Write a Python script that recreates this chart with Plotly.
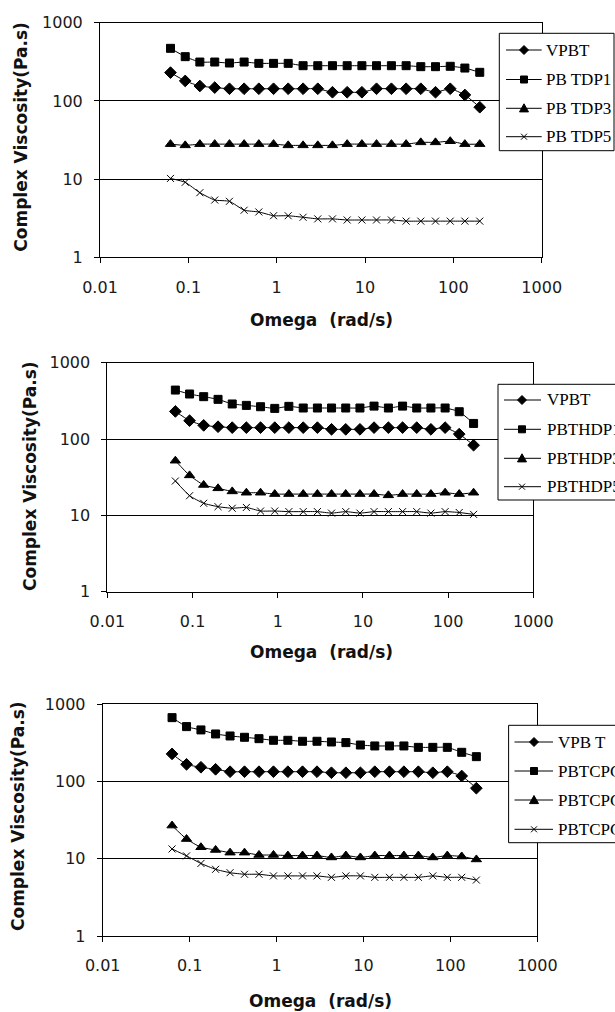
import plotly.graph_objects as go

W, H = 615, 1012

# ---------------- data ----------------
omega = [0.0628, 0.0922, 0.135, 0.199, 0.292, 0.428, 0.628, 0.922, 1.35, 1.99, 2.92,
         4.28, 6.28, 9.22, 13.5, 19.9, 29.2, 42.8, 62.8, 92.2, 135, 199]

# panel 1
vpbt_1 = [230, 180, 155, 148, 143, 143, 143, 143, 143, 143, 143, 129, 129, 129, 143, 143, 143, 143, 129, 143, 119, 83]
pbtdp1 = [470, 368, 314, 314, 305, 314, 302, 302, 302, 282, 282, 282, 282, 282, 282, 282, 282, 274, 274, 277, 263, 232]
pbtdp3 = [28, 27, 28, 28, 28, 28, 28, 28, 27, 27, 27, 27, 28, 28, 28, 28, 28, 29.5, 29.5, 30.5, 28, 28]
pbtdp5 = [10.2, 9.1, 6.7, 5.4, 5.2, 4.0, 3.8, 3.4, 3.4, 3.25, 3.1, 3.1, 3.0, 3.0, 3.0, 3.0, 2.9, 2.9, 2.9, 2.9, 2.9, 2.9]

# panel 2
vpbt_2 = [230, 174, 151, 145, 141, 141, 141, 141, 141, 141, 141, 134, 134, 134, 141, 141, 141, 141, 134, 141, 116, 83]
pbthdp1 = [438, 389, 359, 331, 288, 276, 265, 252, 268, 255, 255, 255, 255, 255, 270, 255, 270, 255, 255, 255, 228, 160]
pbthdp3 = [52, 33.4, 25, 22.6, 20.6, 19.8, 19.8, 19, 19, 19, 19, 19, 19, 19, 19, 18.3, 19, 19, 19, 19.8, 19, 19.8]
pbthdp5 = [28.2, 18.1, 14.4, 13.0, 12.4, 12.7, 11.4, 11.4, 11.2, 11.2, 11.2, 10.7, 11.2, 10.7, 11.2, 11.2, 11.2, 11.2, 10.7, 11.2, 10.9, 10.3]

# panel 3
vpbt_3 = [228, 167, 153, 144, 134, 134, 134, 134, 134, 134, 134, 130, 130, 130, 134, 134, 134, 134, 130, 134, 118, 82]
pbtcpc1 = [672, 514, 466, 413, 389, 374, 359, 342, 342, 332, 332, 325, 319, 297, 289, 289, 289, 277, 277, 277, 239, 210]
pbtcpc3 = [26.9, 18.0, 14.1, 13.0, 12.0, 12.0, 11.2, 11.2, 11.0, 11.0, 11.0, 10.4, 11.0, 10.4, 11.0, 11.0, 11.0, 11.0, 10.4, 11.0, 10.7, 9.8]
pbtcpc5 = [13.4, 10.9, 8.7, 7.3, 6.6, 6.3, 6.3, 6.0, 6.0, 6.0, 6.0, 5.75, 6.0, 6.0, 5.75, 5.75, 5.75, 5.75, 6.0, 5.75, 5.75, 5.3]

names_1 = ["VPBT", "PB TDP1", "PB TDP3", "PB TDP5"]
names_2 = ["VPBT", "PBTHDP1", "PBTHDP3", "PBTHDP5"]
names_3 = ["VPB T", "PBTCPC1", "PBTCPC3", "PBTCPC5"]

x_ticks = [0.01, 0.1, 1, 10, 100, 1000]
x_ticktext = ["0.01", "0.1", "1", "10", "100", "1000"]
y_ticks = [1, 10, 100, 1000]
y_ticktext = ["1", "10", "100", "1000"]

y_title = "Complex Viscosity(Pa.s)"
x_title = "Omega\u00a0 (rad/s)"

# ---------------- layout geometry (pixels) ----------------
panels = [
    dict(x0=100.0, x1=541.7, top=22.7, bot=257.3,
         series=[vpbt_1, pbtdp1, pbtdp3, pbtdp5], names=names_1,
         leg=dict(left=499.3, right=614, top=33.3, bot=150.7, ys=[50, 79.5, 108.3, 136.7],
                  l0=506, l1=541.7, mx=524, tx=544.3),
         ytitle=(21, 136.7), xtitle=(321, 320)),
    dict(x0=107.4, x1=533.3, top=362.7, bot=591.7,
         series=[vpbt_2, pbthdp1, pbthdp3, pbthdp5], names=names_2,
         leg=dict(left=498, right=650, top=384.3, bot=500, ys=[400, 429.3, 458.3, 486.7],
                  l0=504, l1=541, mx=522, tx=545),
         ytitle=(30, 476), xtitle=(321.5, 652)),
    dict(x0=102.7, x1=537.3, top=704.3, bot=936,
         series=[vpbt_3, pbtcpc1, pbtcpc3, pbtcpc5], names=names_3,
         leg=dict(left=508.6, right=650, top=725.3, bot=842.7, ys=[742, 771, 800, 829.3],
                  l0=514.5, l1=553, mx=534, tx=556),
         ytitle=(18, 816), xtitle=(320.5, 1001)),
]

symbols = ["diamond", "square", "triangle-up", "x-thin-open"]
sizes = [9, 8, 9, 7]

def px(x):
    return x / W

def py(y):
    return 1 - y / H

fig = go.Figure()
shapes = []
annotations = []
layout_axes = {}

for k, p in enumerate(panels):
    i = k + 1
    xa = "x" if i == 1 else f"x{i}"
    ya = "y" if i == 1 else f"y{i}"
    for s, (vals, nm) in enumerate(zip(p["series"], p["names"])):
        fig.add_trace(go.Scatter(
            x=omega, y=vals, name=nm, xaxis=xa, yaxis=ya, mode="lines+markers",
            line=dict(color="black", width=1, shape="spline", smoothing=0.5),
            marker=dict(symbol=symbols[s], size=sizes[s], color="black",
                        line=dict(color="black", width=1)),
            showlegend=False, hoverinfo="x+y+name"))
    xkey = "xaxis" if i == 1 else f"xaxis{i}"
    ykey = "yaxis" if i == 1 else f"yaxis{i}"
    layout_axes[xkey] = dict(
        type="log", range=[-2, 3], domain=[px(p["x0"]), px(p["x1"])], anchor=ya,
        showline=True, mirror=True, linecolor="black", linewidth=1,
        showgrid=False, zeroline=False, ticks="outside", ticklen=5, tickcolor="black",
        tickvals=x_ticks, ticktext=x_ticktext, ticklabelstandoff=10, automargin=False,
        tickfont=dict(family="DejaVu Sans", size=16, color="#1a1a1a"))
    layout_axes[ykey] = dict(
        type="log", range=[0, 3], domain=[py(p["bot"]), py(p["top"])], anchor=xa,
        showline=True, mirror=True, linecolor="black", linewidth=1,
        showgrid=True, gridcolor="black", gridwidth=1, zeroline=False,
        ticks="outside", ticklen=5, tickcolor="black", automargin=False,
        tickvals=y_ticks, ticktext=y_ticktext, ticklabelstandoff=8,
        tickfont=dict(family="DejaVu Sans", size=16, color="#1a1a1a"))

    # axis titles
    annotations.append(dict(
        text="<b>" + y_title + "</b>", x=px(p["ytitle"][0]), y=py(p["ytitle"][1]),
        xref="paper", yref="paper",
        textangle=-90, showarrow=False, xanchor="center", yanchor="middle",
        font=dict(family="DejaVu Sans", size=17, color="#111")))
    annotations.append(dict(
        text="<b>" + x_title + "</b>", x=px(p["xtitle"][0]), y=py(p["xtitle"][1]),
        xref="paper", yref="paper", showarrow=False, xanchor="center", yanchor="middle",
        font=dict(family="DejaVu Sans", size=17, color="#111")))

    # legend box
    L = p["leg"]
    shapes.append(dict(type="rect", xref="paper", yref="paper", layer="above",
                       x0=px(L["left"]), x1=px(L["right"]), y0=py(L["bot"]), y1=py(L["top"]),
                       line=dict(color="black", width=1), fillcolor="white"))
    for s, yy in enumerate(L["ys"]):
        shapes.append(dict(type="line", xref="paper", yref="paper", layer="above",
                           x0=px(L["l0"]), x1=px(L["l1"]), y0=py(yy), y1=py(yy),
                           line=dict(color="black", width=1)))
        cx, cy = L["mx"], yy
        if s == 0:
            r = 4.5
            path = (f"M {px(cx)},{py(cy - r)} L {px(cx + r)},{py(cy)} L {px(cx)},{py(cy + r)} "
                    f"L {px(cx - r)},{py(cy)} Z")
            shapes.append(dict(type="path", xref="paper", yref="paper", layer="above",
                               path=path, fillcolor="black", line=dict(color="black", width=1)))
        elif s == 1:
            r = 3.5
            shapes.append(dict(type="rect", xref="paper", yref="paper", layer="above",
                               x0=px(cx - r), x1=px(cx + r), y0=py(cy + r), y1=py(cy - r),
                               fillcolor="black", line=dict(color="black", width=1)))
        elif s == 2:
            r = 4.5
            path = (f"M {px(cx)},{py(cy - r)} L {px(cx + r)},{py(cy + r * 0.8)} "
                    f"L {px(cx - r)},{py(cy + r * 0.8)} Z")
            shapes.append(dict(type="path", xref="paper", yref="paper", layer="above",
                               path=path, fillcolor="black", line=dict(color="black", width=1)))
        else:
            r = 3
            for d in (1, -1):
                shapes.append(dict(type="line", xref="paper", yref="paper", layer="above",
                                   x0=px(cx - r), x1=px(cx + r), y0=py(cy - d * r), y1=py(cy + d * r),
                                   line=dict(color="black", width=1)))
        annotations.append(dict(
            text=p["names"][s], x=px(L["tx"]), y=py(yy), xref="paper", yref="paper",
            showarrow=False, xanchor="left", yanchor="middle",
            font=dict(family="Liberation Serif", size=17, color="black")))

fig.update_layout(
    width=W, height=H, margin=dict(l=0, r=0, t=0, b=0, pad=0, autoexpand=False),
    paper_bgcolor="white", plot_bgcolor="white", showlegend=False,
    shapes=shapes, annotations=annotations, **layout_axes)

fig.write_html("out.html", config={"displayModeBar": False},
               post_script="document.body.style.margin='0';")
